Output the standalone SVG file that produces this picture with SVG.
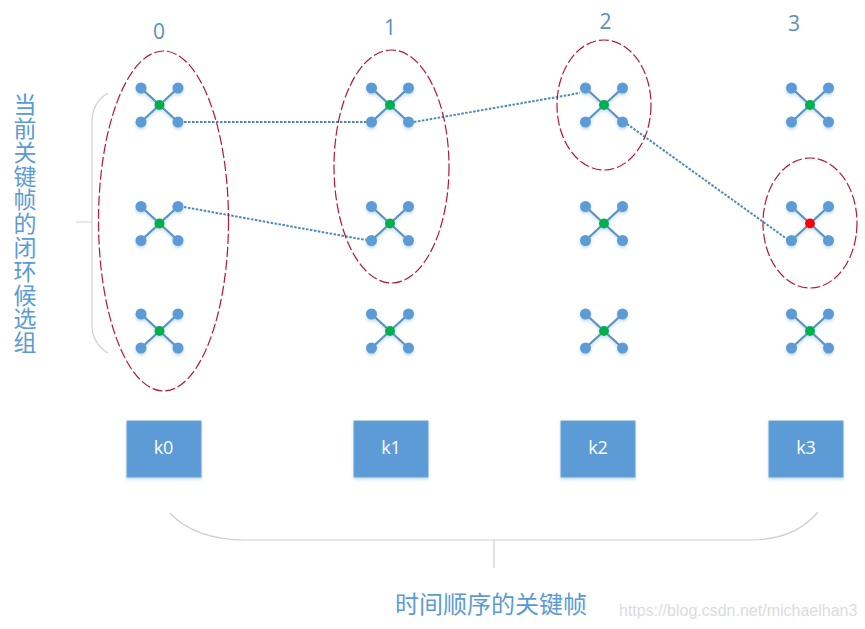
<svg xmlns="http://www.w3.org/2000/svg" xmlns:xlink="http://www.w3.org/1999/xlink" width="865" height="629" viewBox="0 0 865 629">
<style>
text{font-family:"Noto Sans CJK SC","Liberation Sans",sans-serif}
.num{font-family:"Open Sans","Liberation Sans",sans-serif;font-size:21px;fill:#5b8fc0;text-anchor:middle}
.lab{font-size:24px;fill:#5b9bd5;text-anchor:middle}
.vlab{font-size:23px;letter-spacing:0.8px;fill:#5b9bd5;writing-mode:vertical-rl}
.arm{stroke:#5b92c4;stroke-width:2.2}
.tip{fill:#5b9bd5}
.hub{fill:#00b050}
.ring{fill:none;stroke:#b3173a;stroke-width:1.2;stroke-dasharray:10 3}
.link{fill:none;stroke:#4d8ab8;stroke-width:2;stroke-dasharray:2.5 1.5}
.brace{fill:none;stroke:#cfcfcf;stroke-width:1.2}
.box{fill:#5b9bd5;stroke:#6fa3d6;stroke-width:1}
.boxt{font-family:"Open Sans","Liberation Sans",sans-serif;font-size:18px;fill:#fff;text-anchor:middle}
</style>
<defs>
<filter id="sh" x="-30%" y="-30%" width="160%" height="170%"><feDropShadow dx="0" dy="2" stdDeviation="1.5" flood-color="#5b9bd5" flood-opacity="0.35"/></filter>
<g id="x">
<path class="arm" d="M-18.500 -17L18.500 17M18.500 -17L-18.500 17"/>
<circle class="tip" cx="-18.500" cy="-17" r="5.500"/><circle class="tip" cx="18.500" cy="-17" r="5.500"/><circle class="tip" cx="-18.500" cy="17" r="5.500"/><circle class="tip" cx="18.500" cy="17" r="5.500"/>
</g>
</defs>
<rect width="865" height="629" fill="#fff"/>
<g id="braces">
<path class="brace" d="M108 93C98 99 92 108 92 122L92 325C92 338 98 347 108 353M76 222L92 222"/>
<path class="brace" d="M170 513C185 530 212 540 245 540L750 540C780 540 803 530 818 512M494 540L494 568"/>
</g>
<g id="n0-0" filter="url(#sh)"><use href="#x" x="159.500" y="105"/><circle class="hub" cx="159.500" cy="105" r="5"/></g>
<g id="n0-1" filter="url(#sh)"><use href="#x" x="159.500" y="223.500"/><circle class="hub" cx="159.500" cy="223.500" r="5"/></g>
<g id="n0-2" filter="url(#sh)"><use href="#x" x="159.500" y="331"/><circle class="hub" cx="159.500" cy="331" r="5"/></g>
<g id="n1-0" filter="url(#sh)"><use href="#x" x="390" y="105"/><circle class="hub" cx="390" cy="105" r="5"/></g>
<g id="n1-1" filter="url(#sh)"><use href="#x" x="390" y="223.500"/><circle class="hub" cx="390" cy="223.500" r="5"/></g>
<g id="n1-2" filter="url(#sh)"><use href="#x" x="390" y="331"/><circle class="hub" cx="390" cy="331" r="5"/></g>
<g id="n2-0" filter="url(#sh)"><use href="#x" x="604" y="105"/><circle class="hub" cx="604" cy="105" r="5"/></g>
<g id="n2-1" filter="url(#sh)"><use href="#x" x="604" y="223.500"/><circle class="hub" cx="604" cy="223.500" r="5"/></g>
<g id="n2-2" filter="url(#sh)"><use href="#x" x="604" y="331"/><circle class="hub" cx="604" cy="331" r="5"/></g>
<g id="n3-0" filter="url(#sh)"><use href="#x" x="810" y="105"/><circle class="hub" cx="810" cy="105" r="5"/></g>
<g id="n3-1" filter="url(#sh)"><use href="#x" x="810" y="223.500"/><circle cx="810" cy="223.500" r="5" fill="#ff0000"/></g>
<g id="n3-2" filter="url(#sh)"><use href="#x" x="810" y="331"/><circle class="hub" cx="810" cy="331" r="5"/></g>
<g id="connectors">
<path class="link" d="M184 122L366 122"/>
<path class="link" d="M184 207L366 240"/>
<path class="link" d="M414 122L580 93"/>
<path class="link" d="M627 124L787 239"/>
</g>
<g id="groups">
<ellipse class="ring" cx="163.500" cy="221" rx="65" ry="170"/>
<ellipse class="ring" cx="391.500" cy="166.500" rx="57.500" ry="116.500"/>
<ellipse class="ring" cx="604" cy="105" rx="47" ry="65"/>
<ellipse class="ring" cx="810" cy="223" rx="47" ry="65"/>
</g>
<g id="col-labels">
<text class="num" x="159" y="39">0</text>
<text class="num" x="390" y="35">1</text>
<text class="num" x="605.500" y="29">2</text>
<text class="num" x="794" y="31">3</text>
</g>
<g id="k0"><rect class="box" x="127" y="421" width="74" height="56" filter="url(#sh)"/><text class="boxt" x="163.500" y="454">k0</text></g>
<g id="k1"><rect class="box" x="354" y="421" width="74" height="56" filter="url(#sh)"/><text class="boxt" x="391" y="454">k1</text></g>
<g id="k2"><rect class="box" x="561" y="421" width="74" height="56" filter="url(#sh)"/><text class="boxt" x="598" y="454">k2</text></g>
<g id="k3"><rect class="box" x="769" y="421" width="74" height="56" filter="url(#sh)"/><text class="boxt" x="806" y="454">k3</text></g>
<text id="left-label" class="vlab" x="25" y="93">当前关键帧的闭环候选组</text>
<text id="bottom-label" class="lab" x="491" y="613">时间顺序的关键帧</text>
<text id="watermark" x="619" y="616" style="font-family:'Liberation Sans',sans-serif;font-size:16px;fill:#dcdcdc">https://blog.csdn.net/michaelhan3</text>
</svg>
